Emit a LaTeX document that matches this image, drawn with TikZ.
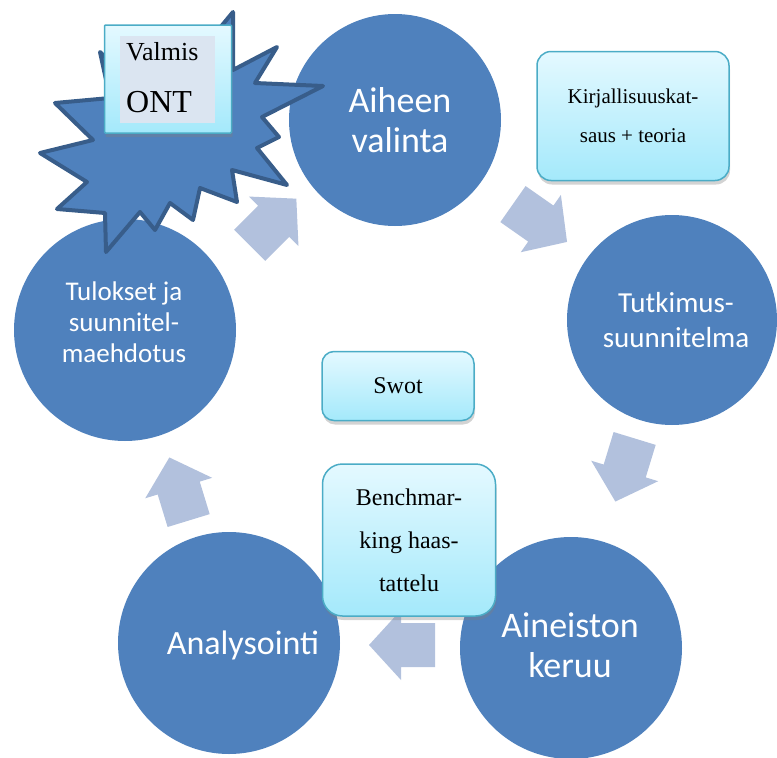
\documentclass[tikz,border=0pt]{standalone}
\usepackage{fontspec}
\setmainfont{Liberation Serif}
\newfontfamily\circfont{Carlito}
\usetikzlibrary{shadows}

\definecolor{circBlue}{RGB}{79,129,189}
\definecolor{burstLine}{RGB}{56,93,138}
\definecolor{arrowGrey}{RGB}{178,193,221}
\definecolor{boxTop}{RGB}{228,249,255}
\definecolor{boxBottom}{RGB}{164,233,251}
\definecolor{boxLine}{RGB}{75,172,198}
\definecolor{valmisInner}{RGB}{219,229,241}

\begin{document}
\begin{tikzpicture}[x=1pt, y=-1pt,
    % --- Styles ---
    stepCircle/.style={
      circle,
      fill=circBlue,
      inner sep=0pt
    },
    circText/.style={
      text=white,
      align=center,
      inner sep=0pt
    },
    noteBox/.style={
      draw=boxLine,
      line width=1.5pt,
      rounded corners=14pt,
      top color=boxTop,
      bottom color=boxBottom,
      drop shadow={opacity=0.35, shadow xshift=1pt, shadow yshift=-4pt},
      align=center,
      inner sep=0pt
    },
    cycleArrow/.style={
      fill=arrowGrey
    },
    burst/.style={
      fill=circBlue,
      draw=burstLine,
      line width=4pt,
      line join=round
    }
]
\useasboundingbox (0,0) rectangle (777,758);

%=====================
% Cycle circles
%=====================
\node[stepCircle, minimum size=212pt] (aihe) at (395,120) {};
\node[stepCircle, minimum size=210pt] (tutk) at (672,320) {};
\node[stepCircle, minimum size=222pt] (keruu) at (571,648) {};
\node[stepCircle, minimum size=222pt] (anal) at (229,643) {};
\node[stepCircle, minimum size=222pt] (tulos) at (125,330) {};

\node[circText, font={\circfont\fontsize{36}{40}\selectfont}] (aiheTxt) at (400,120) {Aiheen\\valinta};
\node[circText, font={\circfont\fontsize{29}{35}\selectfont}] (tutkTxt) at (676,320) {Tutkimus-\\suunnitelma};
\node[circText, font={\circfont\fontsize{36}{40}\selectfont}] (keruuTxt) at (570,645) {Aineiston\\keruu};
\node[circText, font={\circfont\fontsize{34}{40}\selectfont}] (analTxt) at (243,645) {Analysointi};
\node[circText, font={\circfont\fontsize{27}{31}\selectfont}] (tulosTxt) at (124,322) {Tulokset ja\\suunnitel-\\maehdotus};

%=====================
% Arrows between the steps
%=====================
\foreach \ax/\ay/\ang in {540/223/-35, 625/470/-107, 402/645/180, 179/489/107, 273/222/45}
  \fill[cycleArrow, shift={(\ax,\ay)}, rotate=\ang]
    (-33,-22) -- (1,-22) -- (1,-35) -- (33,0) -- (1,35) -- (1,22) -- (-33,22) -- cycle;

%=====================
% Burst behind "Valmis ONT"
%=====================
\filldraw[burst] (233,12) -- (233,70) -- (277,47) -- (255,83) -- (323,86) -- (262,117)
  -- (279,137) -- (257,148) -- (287,185) -- (232,170) -- (237,202) -- (200,188)
  -- (193,220) -- (170,203) -- (155,230) -- (140,212) -- (106,252) -- (105,213)
  -- (57,209) -- (87,182) -- (40,153) -- (93,140) -- (55,103) -- (110,98)
  -- (100,52) -- (130,80) -- (200,52) -- cycle;

%=====================
% Note boxes
%=====================
\node[noteBox, minimum width=192pt, minimum height=129pt, font=\fontsize{21}{39}\selectfont] (kirj) at (633,116) {Kirjallisuuskat-\\saus + teoria};
\node[noteBox, rounded corners=12pt, minimum width=152pt, minimum height=69pt, font=\fontsize{24}{28}\selectfont] (swot) at (398,386) {Swot};
\node[noteBox, rounded corners=20pt, minimum width=173pt, minimum height=152pt, font=\fontsize{24}{43}\selectfont] (bench) at (409,540) {Benchmar-\\king haas-\\tattelu};

% Valmis ONT
\node[noteBox, rounded corners=1pt, minimum width=127pt, minimum height=108pt] (valmis) at (168,79) {};
\node[fill=valmisInner, minimum width=95pt, minimum height=87pt, inner sep=0pt] (valmisIn) at (167,79) {};
\node[anchor=base west, inner sep=0pt, font=\fontsize{26}{30}\selectfont] (valmisTxt) at (126,60) {Valmis};
\node[anchor=base west, inner sep=0pt, font=\fontsize{32}{36}\selectfont] (ontTxt) at (126,112) {ONT};

\end{tikzpicture}
\end{document}
